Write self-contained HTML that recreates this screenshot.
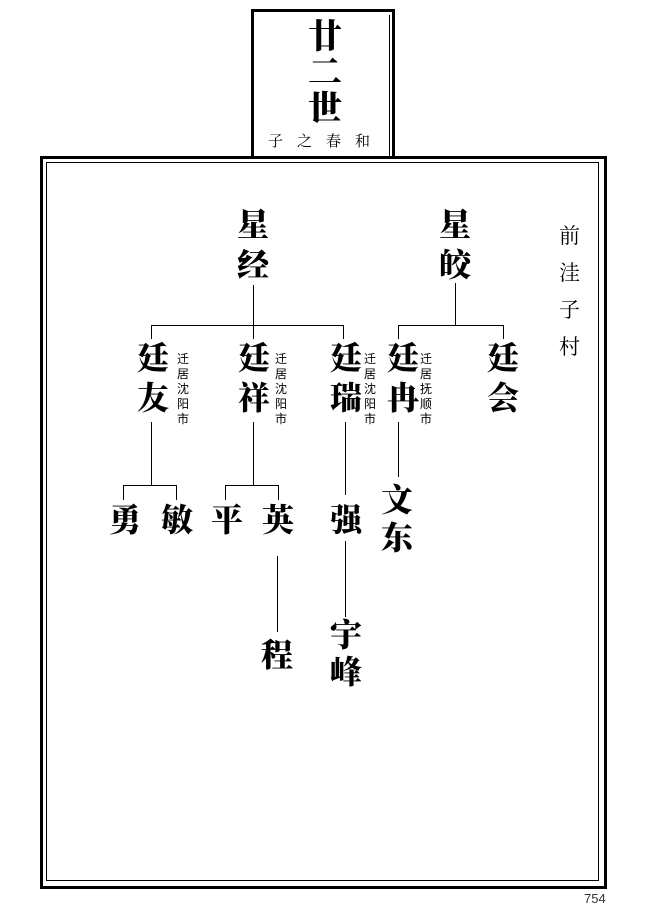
<!DOCTYPE html>
<html><head><meta charset="utf-8"><style>
body{margin:0;width:650px;height:912px;background:#fff;position:relative;overflow:hidden;font-family:"Liberation Serif","Noto Serif CJK SC",serif}
.a{position:absolute}
.n{position:absolute;font-size:32px;font-weight:900;line-height:32px;width:40px;margin-left:-20px;text-align:center;color:#000}
.s{position:absolute;font-size:12px;line-height:15px;width:14px;text-align:center;font-family:"Liberation Sans","WenQuanYi Zen Hei",sans-serif}
.h{position:absolute;height:1px;background:#000}
.v{position:absolute;width:1px;background:#000}
</style></head><body>
<div class="a" style="left:251px;top:9px;width:138px;height:145px;border:3px solid #000;border-bottom:none"></div>
<div class="a" style="left:257px;top:15px;width:132px;height:141px;border-right:1px solid #000;"></div>
<div class="a" style="left:40px;top:156px;width:561px;height:727px;border:3px solid #000"></div>
<div class="a" style="left:46px;top:162px;width:551px;height:717px;border:1px solid #000"></div>
<div class="n" style="left:325px;top:21px;font-size:34px;line-height:34px">廿</div>
<div class="n" style="left:325px;top:57px;font-size:34px;line-height:34px">二</div>
<div class="n" style="left:325px;top:93px;font-size:34px;line-height:34px">世</div>
<div class="a" style="left:268px;top:130px;font-size:15px;letter-spacing:14px;white-space:nowrap">子之春和</div>

<div class="n" style="left:253px;top:209px">星</div><div class="n" style="left:253px;top:249px">经</div>
<div class="n" style="left:455px;top:209px">星</div><div class="n" style="left:455px;top:249px">皎</div>
<div class="v" style="left:253px;top:285px;height:40px"></div>
<div class="h" style="left:151px;top:325px;width:193px"></div>
<div class="v" style="left:151px;top:325px;height:14px"></div>
<div class="v" style="left:343px;top:325px;height:14px"></div>
<div class="v" style="left:253px;top:325px;height:14px"></div>
<div class="v" style="left:455px;top:283px;height:42px"></div>
<div class="h" style="left:398px;top:325px;width:106px"></div>
<div class="v" style="left:398px;top:325px;height:14px"></div>
<div class="v" style="left:503px;top:325px;height:14px"></div>

<div class="n" style="left:153px;top:342px">廷</div><div class="n" style="left:153px;top:382px">友</div>
<div class="n" style="left:254px;top:342px">廷</div><div class="n" style="left:254px;top:382px">祥</div>
<div class="n" style="left:346px;top:342px">廷</div><div class="n" style="left:346px;top:382px">瑞</div>
<div class="n" style="left:403px;top:342px">廷</div><div class="n" style="left:403px;top:382px">冉</div>
<div class="n" style="left:503px;top:342px">廷</div><div class="n" style="left:503px;top:382px">会</div>
<div class="s" style="left:176px;top:352px">迁居沈阳市</div>
<div class="s" style="left:274px;top:352px">迁居沈阳市</div>
<div class="s" style="left:363px;top:352px">迁居沈阳市</div>
<div class="s" style="left:419px;top:352px">迁居抚顺市</div>

<div class="v" style="left:151px;top:422px;height:63px"></div>
<div class="h" style="left:123px;top:485px;width:54px"></div>
<div class="v" style="left:123px;top:485px;height:15px"></div>
<div class="v" style="left:176px;top:485px;height:15px"></div>
<div class="v" style="left:253px;top:422px;height:63px"></div>
<div class="h" style="left:225px;top:485px;width:54px"></div>
<div class="v" style="left:225px;top:485px;height:15px"></div>
<div class="v" style="left:278px;top:485px;height:15px"></div>
<div class="v" style="left:345px;top:422px;height:73px"></div>
<div class="v" style="left:398px;top:422px;height:55px"></div>
<div class="n" style="left:125px;top:504px">勇</div><div class="n" style="left:177px;top:504px">敏</div>
<div class="n" style="left:227px;top:504px">平</div><div class="n" style="left:278px;top:504px">英</div>
<div class="n" style="left:346px;top:504px">强</div>
<div class="n" style="left:397px;top:484px">文</div><div class="n" style="left:397px;top:522px">东</div>
<div class="v" style="left:277px;top:556px;height:76px"></div>
<div class="n" style="left:277px;top:639px">程</div>
<div class="v" style="left:345px;top:541px;height:76px"></div>
<div class="n" style="left:346px;top:619px">宇</div><div class="n" style="left:346px;top:656px">峰</div>

<div class="a" style="left:559px;top:218px;font-size:21px;line-height:37px;width:22px">前洼子村</div>
<div class="a" style="left:584px;top:891px;font-size:13px;font-family:'Liberation Sans',sans-serif;color:#333">754</div>
</body></html>
